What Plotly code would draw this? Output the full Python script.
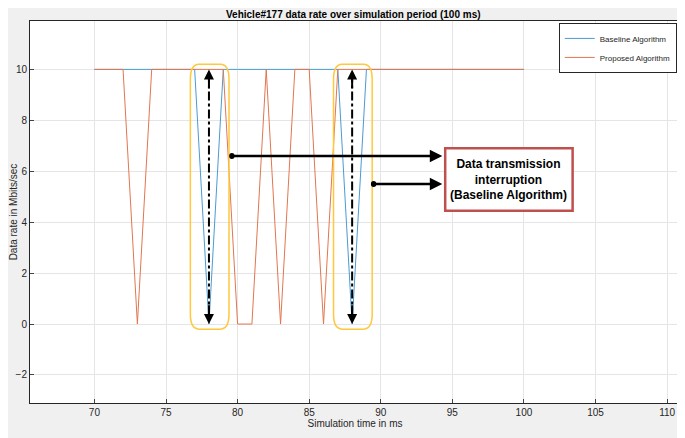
import plotly.graph_objects as go

time_ms = list(range(70, 101))
baseline = [0 if t in (78, 88) else 10 for t in time_ms]
proposed_drops = {73: 0, 80: 0, 81: 0, 83: 0, 86: 0}
proposed = [proposed_drops.get(t, 10) for t in time_ms]

fig = go.Figure()
fig.add_trace(go.Scatter(x=time_ms, y=baseline, mode="lines", name="Baseline Algorithm",
                         line=dict(color="#4A9BD4", width=1)))
fig.add_trace(go.Scatter(x=time_ms, y=proposed, mode="lines", name="Proposed Algorithm",
                         line=dict(color="#E27650", width=1)))


def rounded_box(x0, x1, y0, y1, rx=0.6, ry=0.6):
    return (f"M {x0+rx},{y0} L {x1-rx},{y0} Q {x1},{y0} {x1},{y0+ry} "
            f"L {x1},{y1-ry} Q {x1},{y1} {x1-rx},{y1} L {x0+rx},{y1} "
            f"Q {x0},{y1} {x0},{y1-ry} L {x0},{y0+ry} Q {x0},{y0} {x0+rx},{y0} Z")


shapes = []
for xc in (78, 88):
    shapes.append(dict(type="path", path=rounded_box(xc - 1.3, xc + 1.4, -0.2, 10.2),
                       line=dict(color="#FFC83D", width=1.5)))
    shapes.append(dict(type="line", x0=xc, x1=xc, y0=0.3, y1=9.7,
                       line=dict(color="black", width=2, dash="dashdot")))
shapes.append(dict(type="rect", x0=94.5, x1=103.4, y0=4.45, y1=6.9,
                   line=dict(color="#C0504D", width=2.5), fillcolor="white"))
for x0, y0 in ((79.6, 6.6), (89.5, 5.5)):
    shapes.append(dict(type="circle", x0=x0 - 0.12, x1=x0 + 0.12, y0=y0 - 0.08, y1=y0 + 0.08,
                       fillcolor="black", line=dict(color="black")))

annotations = []
for xc in (78, 88):
    for ya, yb in ((0.0, 0.8), (10.0, 9.2)):
        annotations.append(dict(x=xc, y=ya, ax=xc, ay=yb, xref="x", yref="y", axref="x", ayref="y",
                                text="", showarrow=True, arrowhead=2, arrowsize=1,
                                arrowwidth=2, arrowcolor="black"))
for x0, y0 in ((79.6, 6.6), (89.5, 5.5)):
    annotations.append(dict(x=94.3, y=y0, ax=x0, ay=y0, xref="x", yref="y", axref="x", ayref="y",
                            text="", showarrow=True, arrowhead=2, arrowsize=1,
                            arrowwidth=2.5, arrowcolor="black"))
annotations.append(dict(x=98.95, y=5.67, xref="x", yref="y", showarrow=False,
                        text="<b>Data transmission<br>interruption<br>(Baseline Algorithm)</b>",
                        font=dict(size=12, color="black", family="Liberation Sans")))

# page body has an 8px margin, so the figure is sized to fit inside it
fig.update_layout(
    width=677, height=430,
    margin=dict(l=22, r=5, t=13, b=35),
    paper_bgcolor="#F0F0F0", plot_bgcolor="white",
    font=dict(family="Liberation Sans", size=10, color="#262626"),
    title=dict(text="<b>Vehicle#177 data rate over simulation period (100 ms)</b>",
               x=0.51, y=0.984, yref="container", xanchor="center", yanchor="middle",
               pad=dict(t=0, b=0), font=dict(size=10, color="black")),
    showlegend=True,
    legend=dict(x=0.995, y=0.995, xanchor="right", yanchor="top", bgcolor="white",
                bordercolor="#262626", borderwidth=1, font=dict(size=8), itemwidth=30,
                tracegroupgap=0),
    shapes=shapes, annotations=annotations,
)
fig.update_xaxes(range=[65.5, 110.9], dtick=5, tick0=70, showgrid=True, gridcolor="#E5E5E5",
                 showline=True, linecolor="#262626", mirror=True, ticks="inside", ticklen=4,
                 automargin=False,
                 title=dict(text="Simulation time in ms", standoff=2, font=dict(size=10)), zeroline=False)
fig.update_yaxes(range=[-3.1, 11.9], dtick=2, showgrid=True, gridcolor="#E5E5E5",
                 showline=True, linecolor="#262626", mirror=True, ticks="inside", ticklen=4,
                 automargin=False,
                 title=dict(text="Data rate in Mbits/sec", standoff=2, font=dict(size=10)), zeroline=False)

fig.write_html("out.html")
